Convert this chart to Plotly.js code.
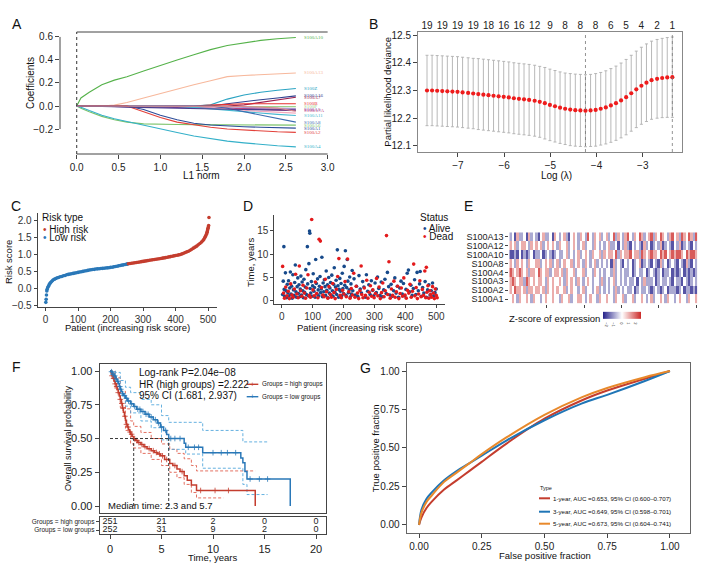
<!DOCTYPE html>
<html>
<head>
<meta charset="utf-8">
<script src="https://cdn.plot.ly/plotly-3.0.1.min.js"></script>
<style>html,body{margin:0;padding:0;background:#fff;}#chart{width:703px;height:570px;}</style>
</head>
<body>
<div id="chart"></div>
<script>
// ---------- Panel A: LASSO coefficient paths ----------
const l1Norm = [0, 0.05, 0.15, 0.3, 0.45, 0.6, 0.8, 1.0, 1.2, 1.4, 1.6, 1.8, 2.0, 2.2, 2.4, 2.62];
const pathGenes = ["S100A10","S100A13","S100Z","S100A16","S100A7","S100B","S100P","S100A5","S100A7A","S100A11","S100A14","S100A9","S100A8","S100A6","S100A1","S100A2","S100A4","S100A3","S100G"];
const pathColors = ["#55b24a","#f7b89c","#2aa3c2","#2f3f8f","#9b1f4f","#e8312f","#9fd38a","#7d3e9a","#c2457f","#46b7d1","#f3a9bd","#a995d0","#3d6db0","#7cc36b","#2b4b98","#e3413a","#34b0c9","#4b3d8c","#d98c8c"];
const pathCoefs = [
  [0, 0.07, 0.12, 0.185, 0.225, 0.255, 0.305, 0.355, 0.40, 0.445, 0.49, 0.525, 0.55, 0.57, 0.585, 0.595],
  [0, 0, 0, 0, 0.008, 0.03, 0.07, 0.11, 0.15, 0.185, 0.22, 0.255, 0.265, 0.272, 0.28, 0.287],
  [0, 0, 0, 0, 0, 0, 0, 0, 0, 0, 0.01, 0.06, 0.095, 0.12, 0.137, 0.152],
  [0, 0, 0, 0, 0, 0, 0, 0, 0, 0, 0, 0.02, 0.04, 0.055, 0.07, 0.088],
  [0, 0, 0, 0, 0, 0, 0, 0, 0, 0, 0, 0, 0.01, 0.03, 0.05, 0.076],
  [0, 0, 0, 0, 0, 0, 0, 0, 0, 0, 0.008, 0.015, 0.02, 0.02, 0.02, 0.02],
  [0, 0, 0, 0, 0, 0, 0, 0, 0, 0, 0, -0.002, -0.003, -0.004, -0.005, -0.005],
  [0, 0, 0, 0, -0.002, -0.005, -0.008, -0.011, -0.014, -0.017, -0.02, -0.022, -0.024, -0.026, -0.027, -0.028],
  [0, 0, 0, 0, 0, 0, 0, 0, 0, -0.004, -0.01, -0.018, -0.025, -0.031, -0.036, -0.04],
  [0, 0, 0, 0, 0, 0, 0, 0, -0.004, -0.012, -0.025, -0.04, -0.052, -0.063, -0.073, -0.083],
  [0, 0, 0, 0, 0, 0, 0, 0, 0, 0, -0.01, -0.025, -0.037, -0.047, -0.055, -0.062],
  [0, 0, 0, 0, 0, 0, 0, 0, 0, 0, 0, -0.006, -0.012, -0.017, -0.02, -0.022],
  [0, 0, 0, 0, 0, 0, 0, 0, 0, 0, 0, -0.02, -0.05, -0.08, -0.11, -0.14],
  [0, -0.02, -0.05, -0.09, -0.12, -0.14, -0.155, -0.16, -0.161, -0.162, -0.163, -0.164, -0.165, -0.165, -0.166, -0.166],
  [0, 0, 0, 0, 0, 0, -0.03, -0.08, -0.12, -0.15, -0.165, -0.175, -0.18, -0.185, -0.19, -0.192],
  [0, 0, 0, 0, 0, 0, -0.05, -0.1, -0.14, -0.165, -0.185, -0.2, -0.21, -0.218, -0.224, -0.229],
  [0, -0.01, -0.04, -0.08, -0.11, -0.135, -0.17, -0.2, -0.23, -0.26, -0.285, -0.305, -0.32, -0.335, -0.345, -0.355],
  [0, 0, 0, 0, -0.005, -0.01, -0.014, -0.018, -0.021, -0.024, -0.026, -0.028, -0.03, -0.032, -0.034, -0.036],
  [0, 0, 0, 0, 0, 0, 0, 0, 0, 0, 0, 0, -0.004, -0.01, -0.018, -0.045]
];
const l1Ticks = [0, 0.5, 1, 1.5, 2, 2.5, 3];
const l1TopCounts = ["0","5","8","9","16","19","19"];
// which path end labels are legible in the figure (others are hidden under the cluster)
const labeledGenes = ["S100A10","S100A13","S100Z","S100A16","S100A7","S100B","S100P","S100A5","S100A7A","S100A11","S100A8","S100A6","S100A1","S100A2","S100A4"];

// ---------- Panel B: cross-validation curve ----------
const logLambda = [-7.67,-7.56,-7.45,-7.34,-7.23,-7.12,-7.01,-6.90,-6.78,-6.67,-6.56,-6.45,-6.34,-6.23,-6.12,-6.01,-5.90,-5.79,-5.68,-5.57,-5.46,-5.34,-5.23,-5.12,-5.01,-4.90,-4.79,-4.68,-4.57,-4.46,-4.35,-4.24,-4.13,-4.02,-3.91,-3.80,-3.69,-3.58,-3.47,-3.36,-3.25,-3.14,-3.03,-2.92,-2.81,-2.69,-2.58,-2.47,-2.36];
const cvMean = [12.300,12.300,12.299,12.298,12.297,12.296,12.295,12.293,12.291,12.289,
  12.287,12.285,12.283,12.281,12.279,12.277,12.275,12.272,12.270,12.268,
  12.266,12.263,12.259,12.254,12.248,12.243,12.238,12.234,12.231,12.229,
  12.228,12.227,12.228,12.230,12.234,12.239,12.246,12.254,12.264,12.276,
  12.290,12.304,12.317,12.328,12.337,12.342,12.345,12.347,12.348];
const cvSE = [0.127,0.127,0.127,0.127,0.127,0.127,0.127,0.127,0.127,0.127,
  0.128,0.128,0.128,0.128,0.128,0.128,0.128,0.128,0.128,0.128,
  0.128,0.128,0.128,0.129,0.129,0.129,0.129,0.129,0.130,0.130,
  0.130,0.130,0.130,0.131,0.131,0.132,0.133,0.134,0.135,0.136,
  0.137,0.138,0.139,0.140,0.141,0.142,0.143,0.144,0.145];
const nonzeroIdx = [0,3,6,9,12,15,18,21,24,27,30,33,36,39,42,45,48];
const nonzeroCounts = ["19","19","19","19","18","16","16","12","9","8","8","8","6","5","4","2","1"];
const lambdaMinIdx = 31;
const lambda1seIdx = 48;

// ---------- Panel C: risk score ----------
const lowPatient = [1,2,3,4,5,7,9,11,13,15,18,21,24,28,32,36,40,45,50,55,60,65,70,75,80,85,90,95,100,105,110,115,120,125,130,135,140,145,150,155,160,165,170,175,180,185,190,195,200,205,210,215,220,225,230,235,240,245,250,252];
const lowScore = [-0.42,-0.33,-0.2,-0.08,-0.03,0.02,0.06,0.1,0.13,0.16,0.19,0.22,0.25,0.27,0.29,0.31,0.32,0.34,0.35,0.37,0.38,0.40,0.41,0.42,0.43,0.44,0.45,0.46,0.47,0.48,0.49,0.50,0.51,0.52,0.53,0.54,0.55,0.555,0.56,0.57,0.575,0.58,0.585,0.59,0.595,0.60,0.605,0.61,0.62,0.625,0.635,0.645,0.655,0.665,0.675,0.685,0.695,0.705,0.715,0.72];
const highPatient = [255,260,265,270,275,280,285,290,295,300,305,310,315,320,325,330,335,340,345,350,355,360,365,370,375,380,385,390,395,400,405,410,415,420,425,430,435,440,445,450,455,460,465,470,475,480,484,487,490,492,494,496,497,498,499,500,501,502,503];
const highScore = [0.725,0.733,0.741,0.749,0.757,0.765,0.773,0.781,0.789,0.797,0.805,0.813,0.821,0.829,0.837,0.845,0.853,0.861,0.869,0.877,0.885,0.893,0.901,0.91,0.92,0.93,0.94,0.95,0.96,0.97,0.98,0.99,1.0,1.02,1.04,1.06,1.08,1.1,1.13,1.16,1.19,1.22,1.25,1.29,1.33,1.37,1.41,1.45,1.5,1.54,1.58,1.62,1.66,1.7,1.74,1.78,1.82,1.86,2.1];

// ---------- Panel D: survival status ----------
const alivePatient = [3,5,7,8,10,12,14,16,18,20,22,24,26,28,30,32,34,36,38,40,42,44,46,48,50,52,54,56,58,60,62,64,66,68,70,72,74,76,78,80,83,84,86,88,90,91,92,94,96,98,100,102,104,106,108,110,112,114,116,118,120,122,124,126,128,130,132,134,136,138,140,142,144,146,148,150,152,154,156,158,160,162,164,166,168,170,172,174,176,178,180,182,184,186,188,190,192,194,196,198,200,202,204,206,208,210,212,214,216,218,220,222,224,226,228,230,234,238,242,246,250,254,258,262,266,270,274,278,282,286,290,294,298,302,306,310,314,318,322,326,330,334,338,342,346,350,354,358,362,366,370,374,378,382,386,390,394,398,402,406,410,414,418,422,426,430,434,438,442,446,448,452,456,460,464,468,472,476,480,484,488,492,496,500];
const aliveTime = [1.2,4.1,11.6,2.3,0.8,5.9,2.0,0.5,3.4,1.6,4.2,0.9,2.6,6.1,1.3,3.0,0.4,5.5,2.2,1.0,3.8,7.6,1.8,0.6,2.9,4.8,1.4,3.3,0.7,2.4,5.2,1.1,3.9,2.0,0.5,4.5,1.7,2.8,6.6,1.2,11.6,3.5,0.9,7.9,15.0,14.5,2.5,1.5,4.0,0.8,3.1,5.7,1.9,2.7,0.6,8.8,3.6,1.3,4.6,2.2,0.9,3.0,5.1,1.6,2.4,9.3,0.7,3.7,1.8,4.4,2.9,1.0,6.3,2.1,3.3,0.5,4.9,1.5,2.6,3.8,1.1,5.4,2.0,0.8,3.4,7.0,1.7,2.8,4.3,1.2,10.9,3.1,0.6,2.3,4.7,1.9,3.6,0.9,5.8,2.5,1.4,7.3,3.2,10.7,1.0,2.7,8.8,4.1,1.6,2.2,5.0,0.7,3.5,1.3,6.4,2.0,4.6,1.1,3.0,0.8,5.3,2.4,1.5,4.0,2.8,0.6,5.5,1.9,3.3,1.2,4.2,2.1,0.9,3.7,1.6,5.0,2.5,1.0,3.9,0.7,2.2,4.5,1.4,6.0,2.9,1.1,3.4,0.8,2.0,4.8,1.5,3.0,0.6,2.6,4.1,1.3,3.6,0.9,2.3,5.8,6.5,1.8,3.2,1.0,2.5,4.4,1.2,6.0,2.0,3.5,6.2,0.8,2.7,1.5,4.0,0.6,2.2,3.3,1.1,2.0,3.7,0.9,1.6,2.4];
const deadPatient = [3,6,9,13,17,21,25,29,33,37,41,45,49,53,57,61,65,69,73,77,81,85,89,93,97,101,105,109,113,117,121,125,129,133,137,141,145,149,153,157,161,165,169,173,177,181,185,189,193,197,201,205,209,213,217,221,225,229,233,237,241,245,249,253,257,259,263,267,271,275,279,283,287,291,295,299,303,307,311,315,319,323,327,331,335,339,343,347,351,355,359,363,367,371,375,379,383,387,391,395,399,403,407,411,415,419,423,427,431,435,439,443,447,451,455,459,463,466,468,470,473,476,479,482,485,488,491,494,497,500,503];
const deadTime = [7.3,1.5,0.4,2.8,0.9,1.9,0.3,3.5,1.1,0.6,2.4,5.6,1.3,0.5,7.4,2.0,0.8,3.2,1.5,0.4,2.6,5.5,1.0,0.6,17.5,2.2,0.9,3.9,1.4,0.5,13.2,12.8,2.7,1.1,0.7,4.5,1.8,0.4,2.9,1.2,0.6,3.6,1.6,0.3,2.3,5.1,9.0,1.0,0.5,2.1,1.3,4.0,0.7,8.9,1.8,0.4,2.5,1.1,5.8,0.6,3.0,1.5,0.3,2.0,7.4,1.2,0.5,2.6,1.0,4.3,0.4,1.7,3.1,0.8,2.2,0.5,1.4,4.7,0.9,2.8,0.3,1.6,3.7,0.7,2.0,14.0,1.2,8.3,0.4,2.4,1.0,4.1,0.6,1.8,3.0,0.3,1.4,2.6,0.8,4.8,1.1,0.4,2.1,1.5,3.4,0.6,1.9,7.8,0.9,2.7,0.3,1.3,4.2,0.7,2.3,1.0,6.3,0.5,7.1,1.7,3.1,0.4,2.0,1.2,0.6,2.9,1.5,0.3,2.4,1.0,0.5];

// ---------- Panel E: expression heatmap (z-scores, patients sorted by risk) ----------
const heatGenes = ["S100A13","S100A12","S100A10","S100A8","S100A4","S100A3","S100A2","S100A1"];
const heatZ = [
  [-1,0,-2,1,-1,-1,0,-2,1,-1, 0,-1,-2,0,1,-1,-1,0,-2,1, 0,-1,0,1,-1,-2,0,1,0,-1, 1,0,-1,2,0,-1,1,0,1,-1, 0,1,-1,0,2,-1,1,0,-1,1, 2,0,-1,1,0,2,1,-1,0,1, 2,-1,1,0,2,1,0,-1,1,2, 0,1,-1,2,1,0,2,1,-1,2],
  [1,0,1,-1,0,1,1,0,-1,1, 0,1,0,1,-1,0,1,0,1,0, -1,1,0,0,1,-1,0,1,0,-1, 0,1,-1,0,0,-1,1,0,-1,0, -1,0,1,-1,-1,0,-2,0,-1,1, -1,-2,0,-1,0,-1,-2,1,-1,0, -2,-1,0,-1,1,-2,-1,0,-1,-2, 0,-1,1,-2,-1,0,-1,-2,0,-1],
  [-2,-2,-1,-2,0,-2,-1,-2,-1,0, -2,-1,-1,0,-2,-1,0,-1,-2,-1, 0,-1,-1,0,1,-1,0,-1,0,1, -1,0,1,0,-1,1,0,0,1,-1, 1,0,1,1,0,2,-1,1,0,1, 1,2,0,1,1,-1,2,1,0,1, 2,1,1,0,2,1,2,0,1,2, 1,2,2,1,0,2,1,2,2,1],
  [1,0,-1,1,0,1,0,-1,1,0, 0,1,1,-1,0,1,0,1,-1,0, 1,-1,0,1,0,0,1,-1,0,1, 0,-1,1,0,-1,0,1,-1,0,-1, 0,-1,0,-2,1,-1,0,-1,-2,0, -1,0,-2,-1,0,1,-2,-1,0,-1, -2,0,-1,-2,1,-1,0,-2,-1,0, -1,-2,0,-1,-2,1,-1,-2,0,-1],
  [2,1,0,1,2,1,0,1,-1,1, 1,0,2,1,0,1,1,-1,0,1, 1,0,1,-1,1,0,0,1,-1,0, 0,1,-1,0,0,-1,1,0,-1,0, -1,0,0,-1,1,-1,0,-1,0,-1, -1,0,-2,-1,0,-1,-1,0,-2,-1, 0,-1,-2,-1,0,-2,-1,-1,0,-2, -1,-2,-1,0,-2,-1,-2,-1,-2,-1],
  [1,2,1,0,1,1,-1,2,1,0, 1,0,1,1,0,-1,1,0,1,0, 0,1,0,-1,1,0,1,0,-1,1, 0,-1,0,1,0,-1,0,0,-1,1, -1,0,-1,0,1,-1,0,-1,0,-1, 0,-1,-1,0,-2,0,-1,1,-1,-1, -1,0,-2,-1,0,-1,-1,0,-1,-2, 0,-1,-1,-2,0,-1,-2,-1,0,-1],
  [1,0,2,1,1,0,1,-1,1,1, 0,1,1,0,1,-1,1,0,1,0, 1,0,0,1,-1,0,1,0,0,-1, 0,1,-1,0,0,-1,0,1,-1,0, -1,0,-1,0,-1,1,-1,0,-1,0, -1,-1,0,-2,-1,0,-1,-1,0,-1, -2,-1,0,-1,-2,-1,0,-2,-1,-1, -1,-2,-1,0,-2,-1,-1,-2,-1,-2],
  [0,1,0,-1,1,0,0,1,0,-1, 1,0,0,-1,0,1,0,0,1,0, 0,-1,1,0,0,1,-1,0,0,1, 1,0,-1,0,1,0,0,-1,1,0, 0,1,0,0,-1,1,0,0,1,-1, 0,0,1,-1,0,0,1,0,-1,0, 1,-1,0,0,1,0,-1,1,0,0, -1,0,1,0,0,-1,1,0,0,1]
];
const heatPatients = 503;

// ---------- Panel F: Kaplan-Meier ----------
const highT = [0,0.1,0.2,0.3,0.4,0.5,0.6,0.7,0.8,0.9,1.0,1.1,1.2,1.3,1.4,1.5,1.6,1.7,1.8,1.9,2.0,2.15,2.3,2.5,2.7,3.0,3.3,3.6,4.0,4.3,4.6,4.9,5.3,5.8,6.1,6.5,6.8,7.2,7.5,7.9,8.4,14.1];
const highS = [1,0.985,0.965,0.945,0.925,0.905,0.885,0.865,0.84,0.815,0.79,0.76,0.725,0.695,0.665,0.635,0.605,0.585,0.565,0.548,0.532,0.515,0.498,0.485,0.47,0.455,0.44,0.425,0.41,0.397,0.386,0.372,0.345,0.315,0.3,0.275,0.255,0.225,0.19,0.155,0.115,0];
const highUpT = [0,0.5,1.0,1.5,2.0,2.3,3.0,4.0,5.0,5.8,6.5,7.2,7.9,8.4,14.1];
const highUp = [1,0.95,0.85,0.72,0.63,0.59,0.545,0.5,0.46,0.42,0.39,0.35,0.3,0.26,0.26];
const highLoT = [0,0.5,1.0,1.5,2.0,2.3,3.0,4.0,5.0,5.8,6.5,7.2,7.9,8.4,11.0];
const highLo = [1,0.86,0.73,0.56,0.46,0.43,0.39,0.345,0.3,0.25,0.21,0.16,0.1,0.06,0.06];
const lowT = [0,0.1,0.2,0.3,0.4,0.5,0.6,0.7,0.8,0.9,1.0,1.1,1.2,1.3,1.5,1.7,2.0,2.3,2.6,3.0,3.4,3.8,4.2,4.6,4.9,5.2,5.5,5.7,7.2,7.35,9.0,12.7,12.9,13.1,13.3,17.5];
const lowS = [1,0.995,0.985,0.975,0.965,0.955,0.94,0.925,0.905,0.885,0.865,0.848,0.832,0.818,0.798,0.778,0.757,0.737,0.717,0.7,0.68,0.66,0.64,0.615,0.585,0.56,0.53,0.5,0.465,0.435,0.395,0.355,0.32,0.255,0.2,0];
const lowUpT = [0,0.5,1.0,1.5,2.0,3.0,4.0,5.0,5.7,7.35,9.0,12.9,15.3];
const lowUp = [1,0.99,0.93,0.88,0.84,0.79,0.75,0.67,0.62,0.62,0.56,0.475,0.475];
const lowLoT = [0,0.5,1.0,1.5,2.0,3.0,4.0,5.0,5.7,7.35,9.0,12.9,13.3,15.3];
const lowLo = [1,0.92,0.82,0.74,0.69,0.63,0.58,0.49,0.42,0.385,0.28,0.16,0.085,0.085];
const highCensor = [0.2,0.35,0.5,0.65,0.8,1.0,1.15,1.25,1.45,1.6,1.75,1.95,2.1,2.4,2.6,2.8,3.1,3.4,3.8,4.2,4.5,4.8,5.1,5.5,6.3,7.0,8.8,10.2,11.5];
const lowCensor = [0.15,0.3,0.45,0.6,0.75,0.95,1.05,1.25,1.4,1.6,1.8,2.1,2.4,2.7,2.9,3.2,3.5,3.7,4.0,4.4,4.7,5.0,5.4,5.9,6.3,6.8,7.6,8.2,8.6,10.0,10.8,11.4,12.2,13.6,14.5,15.3];
const medianHigh = 2.3, medianLow = 5.7;
const tableTimes = [0,5,10,15,20];
const atRiskHigh = [251,21,2,0,0];
const atRiskLow = [252,31,9,2,0];

// ---------- Panel G: time-dependent ROC ----------
const fpr = [0,0.01,0.03,0.05,0.1,0.15,0.2,0.25,0.35,0.5,0.65,0.75,0.9,1.0];
const tpr1y = [0,0.05,0.11,0.15,0.23,0.29,0.35,0.41,0.53,0.69,0.81,0.873,0.95,1.0];
const tpr3y = [0,0.10,0.17,0.21,0.29,0.35,0.40,0.45,0.55,0.68,0.79,0.845,0.935,1.0];
const tpr5y = [0,0.08,0.15,0.19,0.28,0.34,0.40,0.46,0.57,0.715,0.83,0.89,0.96,1.0];
const rocLabels = ["1-year, AUC =0.653, 95% CI (0.600–0.707)","3-year, AUC =0.649, 95% CI (0.598–0.701)","5-year, AUC =0.673, 95% CI (0.604–0.741)"];

// =====================================================================
const W = 703, H = 570;
const FONT = "Liberation Sans, Arial, Helvetica, sans-serif";
const dx = (a, b) => [a / W, b / W];
const dy = (top, bot) => [1 - bot / H, 1 - top / H];
const ann = (text, x, y, size, o) => Object.assign({text: text, x: x / W, y: 1 - y / H, xref: "paper", yref: "paper", showarrow: false, font: {size: size, family: FONT, color: "#111"}, xanchor: "center", yanchor: "middle"}, o || {});
const RED = "#c43d2e", BLUE = "#2a78b8", ORANGE = "#e8892b";

const traces = [];
// A
pathGenes.forEach((g, i) => {
  traces.push({type: "scatter", mode: "lines", x: l1Norm, y: pathCoefs[i], xaxis: "x", yaxis: "y", line: {color: pathColors[i], width: 1.1}, hoverinfo: "skip"});
});
// B
traces.push({type: "scatter", mode: "markers", x: logLambda, y: cvMean, xaxis: "x3", yaxis: "y3",
  marker: {color: "#ee1c1c", size: 4.2}, error_y: {type: "data", array: cvSE, color: "#b0b0b0", thickness: 0.9, width: 1.5}, hoverinfo: "skip"});
traces.push({type: "scatter", mode: "markers", x: [logLambda[0]], y: [cvMean[0]], xaxis: "x4", yaxis: "y3", marker: {opacity: 0}, hoverinfo: "skip"});
// C
traces.push({type: "scatter", mode: "markers", x: lowPatient, y: lowScore, xaxis: "x5", yaxis: "y5", marker: {color: BLUE, size: 3.6}, hoverinfo: "skip"});
traces.push({type: "scatter", mode: "markers", x: highPatient, y: highScore, xaxis: "x5", yaxis: "y5", marker: {color: RED, size: 3.6}, hoverinfo: "skip"});
// D
traces.push({type: "scatter", mode: "markers", x: alivePatient, y: aliveTime, xaxis: "x6", yaxis: "y6", marker: {color: "#174a8b", size: 3.6}, hoverinfo: "skip"});
traces.push({type: "scatter", mode: "markers", x: deadPatient, y: deadTime, xaxis: "x6", yaxis: "y6", marker: {color: "#e31a1c", size: 3.6}, hoverinfo: "skip"});
// E
traces.push({type: "heatmap", z: heatZ, y: heatGenes, x0: heatPatients / heatZ[0].length / 2, dx: heatPatients / heatZ[0].length, xaxis: "x7", yaxis: "y7",
  zmin: -2.6, zmax: 2.6, colorscale: [[0, "#24218a"], [0.5, "#ffffff"], [1, "#cc2a28"]], hoverinfo: "skip",
  colorbar: {orientation: "h", x: 621.7 / W, y: 1 - 318 / H, xanchor: "center", yanchor: "middle", len: 38, lenmode: "pixels", thickness: 7, thicknessmode: "pixels",
    outlinewidth: 0, tickvals: [-2, -1, 0, 1, 2], tickfont: {size: 4, family: FONT}, ticks: "", ypad: 0, xpad: 0}});
// F
const stepAt = (T, S, t) => { let s = S[0]; for (let k = 0; k < T.length; k++) { if (T[k] <= t) s = S[k]; } return s; };
const ciDash = "3px,2px";
traces.push({type: "scatter", mode: "lines", x: highUpT, y: highUp, xaxis: "x8", yaxis: "y8", line: {color: "#e0604f", width: 0.9, dash: ciDash, shape: "hv"}, hoverinfo: "skip"});
traces.push({type: "scatter", mode: "lines", x: highLoT, y: highLo, xaxis: "x8", yaxis: "y8", line: {color: "#e0604f", width: 0.9, dash: ciDash, shape: "hv"}, hoverinfo: "skip"});
traces.push({type: "scatter", mode: "lines", x: lowUpT, y: lowUp, xaxis: "x8", yaxis: "y8", line: {color: "#55a8dc", width: 0.9, dash: ciDash, shape: "hv"}, hoverinfo: "skip"});
traces.push({type: "scatter", mode: "lines", x: lowLoT, y: lowLo, xaxis: "x8", yaxis: "y8", line: {color: "#55a8dc", width: 0.9, dash: ciDash, shape: "hv"}, hoverinfo: "skip"});
traces.push({type: "scatter", mode: "lines", x: highT, y: highS, xaxis: "x8", yaxis: "y8", line: {color: RED, width: 1.5, shape: "hv"}, hoverinfo: "skip"});
traces.push({type: "scatter", mode: "lines", x: lowT, y: lowS, xaxis: "x8", yaxis: "y8", line: {color: BLUE, width: 1.5, shape: "hv"}, hoverinfo: "skip"});
traces.push({type: "scatter", mode: "markers", x: highCensor, y: highCensor.map(t => stepAt(highT, highS, t)), xaxis: "x8", yaxis: "y8",
  marker: {symbol: "cross-thin-open", size: 4, color: RED, line: {color: RED, width: 0.8}}, hoverinfo: "skip"});
traces.push({type: "scatter", mode: "markers", x: lowCensor, y: lowCensor.map(t => stepAt(lowT, lowS, t)), xaxis: "x8", yaxis: "y8",
  marker: {symbol: "cross-thin-open", size: 4, color: BLUE, line: {color: BLUE, width: 0.8}}, hoverinfo: "skip"});
traces.push({type: "scatter", mode: "text", x: tableTimes, y: tableTimes.map(() => 2), text: atRiskHigh.map(String), xaxis: "x9", yaxis: "y9", textfont: {size: 9, family: FONT, color: "#222"}, hoverinfo: "skip"});
traces.push({type: "scatter", mode: "text", x: tableTimes, y: tableTimes.map(() => 1), text: atRiskLow.map(String), xaxis: "x9", yaxis: "y9", textfont: {size: 9, family: FONT, color: "#222"}, hoverinfo: "skip"});
// G
[[tpr1y, RED], [tpr3y, "#1f75b6"], [tpr5y, ORANGE]].forEach(([t, c]) => {
  traces.push({type: "scatter", mode: "lines", x: fpr, y: t, xaxis: "x10", yaxis: "y10", line: {color: c, width: 2, shape: "spline", smoothing: 1}, hoverinfo: "skip"});
});

const base = {showgrid: false, zeroline: false, ticks: "outside", ticklen: 4, tickwidth: 1, tickcolor: "#444", linecolor: "#444", linewidth: 1,
  tickfont: {size: 10, family: FONT, color: "#222"}, fixedrange: true};
const ax = o => Object.assign({}, base, o);

const layout = {
  width: W, height: H, margin: {l: 0, r: 0, t: 0, b: 0}, paper_bgcolor: "#fff", plot_bgcolor: "rgba(0,0,0,0)", showlegend: false,
  font: {family: FONT, color: "#222"},
  // A
  xaxis: ax({domain: dx(60, 336), range: [-0.2, 3.1], anchor: "y", tickvals: l1Ticks, tickformat: ".1f", showline: false}),
  yaxis: ax({domain: dy(32, 154), range: [-0.417, 0.643], anchor: "x", tickvals: [-0.2, 0, 0.2, 0.4, 0.6], tickformat: ".1f", showline: false}),
  xaxis2: ax({overlaying: "x", side: "top", anchor: "y", range: [-0.2, 3.1], tickvals: l1Ticks, ticktext: l1TopCounts, showline: false}),
  // B
  xaxis3: ax({domain: dx(418, 682), range: [-7.865, -2.151], anchor: "y3", tickvals: [-7, -6, -5, -4, -3], showline: true, mirror: true, linecolor: "#888"}),
  yaxis3: ax({domain: dy(32, 152), range: [12.078, 12.511], anchor: "x3", tickvals: [12.1, 12.2, 12.3, 12.4, 12.5], tickformat: ".1f", showline: true, mirror: true, linecolor: "#888"}),
  xaxis4: ax({overlaying: "x3", side: "top", anchor: "y3", range: [-7.865, -2.151], tickvals: nonzeroIdx.map(i => logLambda[i]), ticktext: nonzeroCounts, ticks: "", showline: false}),
  // C
  xaxis5: ax({domain: dx(37.7, 217.1), range: [-24, 528], anchor: "y5", tickvals: [0, 100, 200, 300, 400, 500], showline: true, ticklen: 3, tickfont: {size: 10, family: FONT, color: "#333"}}),
  yaxis5: ax({domain: dy(213.3, 306.6), range: [-0.546, 2.226], anchor: "x5", tickvals: [-0.5, 0, 0.5, 1, 1.5, 2], tickformat: ".1f", showline: true, ticklen: 3, tickfont: {size: 10, family: FONT, color: "#333"}}),
  // D
  xaxis6: ax({domain: dx(274.3, 444.9), range: [-24, 528], anchor: "y6", tickvals: [0, 100, 200, 300, 400, 500], showline: true, ticklen: 3, tickfont: {size: 10, family: FONT, color: "#333"}}),
  yaxis6: ax({domain: dy(215.4, 304), range: [-0.87, 18.39], anchor: "x6", tickvals: [0, 5, 10, 15], showline: true, ticklen: 3, tickfont: {size: 10, family: FONT, color: "#333"}}),
  // E
  xaxis7: ax({domain: dx(509.3, 697.3), range: [0, heatPatients], anchor: "y7", tickvals: [100, 200, 300, 400, 500], showticklabels: false, ticklen: 3, showline: false}),
  yaxis7: ax({domain: dy(232.3, 303.5), anchor: "x7", autorange: "reversed", type: "category", tickmode: "array", tickvals: heatGenes, ticktext: heatGenes, ticklen: 3, showline: false, tickfont: {size: 9, family: FONT, color: "#222"}}),
  // F
  xaxis8: ax({domain: dx(99.7, 326.3), range: [-1, 21], anchor: "y8", showticklabels: false, ticks: "", showline: true, mirror: true}),
  yaxis8: ax({domain: dy(364.3, 513.3), range: [-0.054, 1.05], anchor: "x8", tickvals: [0, 0.25, 0.5, 0.75, 1], tickformat: ".2f", showline: true, mirror: true, tickfont: {size: 11, family: FONT, color: "#222"}}),
  xaxis9: ax({domain: dx(99.7, 326.3), range: [-1, 21], anchor: "y9", tickvals: [0, 5, 10, 15, 20], showline: true, mirror: true, tickfont: {size: 11, family: FONT, color: "#222"}}),
  yaxis9: ax({domain: dy(517.3, 534.3), range: [0.5, 2.5], anchor: "x9", tickvals: [1, 2], ticktext: ["Groups = low groups", "Groups = high groups"], showline: true, mirror: true, ticklen: 3, tickfont: {size: 6.5, family: FONT, color: "#222"}}),
  // G
  xaxis10: ax({domain: dx(406.7, 690), range: [-0.049, 1.08], anchor: "y10", tickvals: [0, 0.25, 0.5, 0.75, 1], tickformat: ".2f", showline: true, mirror: true, linecolor: "#666"}),
  yaxis10: ax({domain: dy(363.3, 533.3), range: [-0.054, 1.05], anchor: "x10", tickvals: [0, 0.25, 0.5, 0.75, 1], tickformat: ".2f", showline: true, mirror: true, linecolor: "#666"}),
  shapes: [
    {type: "line", xref: "x", yref: "y domain", x0: 0, x1: 3, y0: 0, y1: 0, line: {color: "#444", width: 1}},
    {type: "line", xref: "x", yref: "y domain", x0: 0, x1: 3, y0: 1, y1: 1, line: {color: "#444", width: 1}},
    {type: "line", xref: "x domain", yref: "y", x0: 0, x1: 0, y0: -0.2, y1: 0.6, line: {color: "#444", width: 1}},
    {type: "line", xref: "x", yref: "y domain", x0: 0, x1: 0, y0: 0, y1: 1, line: {color: "#333", width: 1, dash: "dot"}},
    {type: "line", xref: "x3", yref: "y3 domain", x0: logLambda[lambdaMinIdx], x1: logLambda[lambdaMinIdx], y0: 0, y1: 1, line: {color: "#777", width: 0.8, dash: "dot"}},
    {type: "line", xref: "x3", yref: "y3 domain", x0: logLambda[lambda1seIdx], x1: logLambda[lambda1seIdx], y0: 0, y1: 1, line: {color: "#777", width: 0.8, dash: "dot"}},
    {type: "line", xref: "x8", yref: "y8", x0: 0, x1: medianLow, y0: 0.5, y1: 0.5, line: {color: "#222", width: 0.9, dash: ciDash}},
    {type: "line", xref: "x8", yref: "y8", x0: medianHigh, x1: medianHigh, y0: 0, y1: 0.5, line: {color: "#222", width: 0.9, dash: ciDash}},
    {type: "line", xref: "x8", yref: "y8", x0: medianLow, x1: medianLow, y0: 0, y1: 0.5, line: {color: "#222", width: 0.9, dash: ciDash}},
    {type: "line", xref: "paper", yref: "paper", x0: 246.7 / W, x1: 258.3 / W, y0: 1 - 384.3 / H, y1: 1 - 384.3 / H, line: {color: RED, width: 1.4}},
    {type: "line", xref: "paper", yref: "paper", x0: 246.7 / W, x1: 258.3 / W, y0: 1 - 396.7 / H, y1: 1 - 396.7 / H, line: {color: BLUE, width: 1.4}},
    {type: "line", xref: "paper", yref: "paper", x0: 539 / W, x1: 550 / W, y0: 1 - 498.3 / H, y1: 1 - 498.3 / H, line: {color: RED, width: 2}},
    {type: "line", xref: "paper", yref: "paper", x0: 539 / W, x1: 550 / W, y0: 1 - 511.7 / H, y1: 1 - 511.7 / H, line: {color: "#1f75b6", width: 2}},
    {type: "line", xref: "paper", yref: "paper", x0: 539 / W, x1: 550 / W, y0: 1 - 523.7 / H, y1: 1 - 523.7 / H, line: {color: ORANGE, width: 2}}
  ],
  annotations: []
};

const A = layout.annotations;
[["A", 16.7, 24], ["B", 373, 24], ["C", 16, 206], ["D", 247.5, 206], ["E", 468, 206], ["F", 16.7, 367], ["G", 365.5, 368]].forEach(([t, x, y]) => A.push(ann(t, x, y, 14)));
// A
A.push(ann("Coefficients", 30, 83, 10, {textangle: -90}));
A.push(ann("L1 norm", 201.7, 175.7, 10));
pathGenes.forEach((g, i) => {
  if (labeledGenes.indexOf(g) < 0) return;
  A.push({text: g, x: 2.69, y: pathCoefs[i][pathCoefs[i].length - 1], xref: "x", yref: "y", showarrow: false, xanchor: "left", yanchor: "middle",
    font: {size: 5, family: "Liberation Serif, Times New Roman, serif", color: pathColors[i]}});
});
// B
A.push(ann("Partial likelihood deviance", 386.7, 92, 9.5, {textangle: -90}));
A.push(ann("Log (λ)", 556.7, 175.7, 10));
// C
A.push(ann("Risk score", 8, 262, 9.5, {textangle: -90}));
A.push(ann("Patient (increasing risk score)", 127, 327.7, 9.5));
A.push(ann("Risk type", 40, 217.7, 10, {xanchor: "left"}));
A.push(ann("<span style='color:" + RED + "'>•</span> High risk", 41, 229, 10, {xanchor: "left"}));
A.push(ann("<span style='color:" + BLUE + "'>•</span> Low risk", 41, 238, 10, {xanchor: "left"}));
// D
A.push(ann("Time, years", 250, 262, 9.5, {textangle: -90}));
A.push(ann("Patient (increasing risk score)", 359, 327.7, 9.5));
A.push(ann("Status", 418.3, 217.7, 10, {xanchor: "left"}));
A.push(ann("<span style='color:#174a8b'>•</span> Alive", 421, 228, 10, {xanchor: "left"}));
A.push(ann("<span style='color:#e31a1c'>•</span> Dead", 421, 236.7, 10, {xanchor: "left"}));
// E
A.push(ann("Z-score of expression", 506.7, 318, 9.5, {xanchor: "left"}));
// F
A.push(ann("Log-rank P=2.04e−08", 137.3, 372.3, 10, {xanchor: "left"}));
A.push(ann("HR (high groups) =2.222", 137.3, 384, 10, {xanchor: "left"}));
A.push(ann("95% CI (1.681, 2.937)", 137.3, 395.5, 10, {xanchor: "left"}));
A.push(ann("Median time: " + medianHigh + " and " + medianLow, 105.7, 505, 9.5, {xanchor: "left"}));
A.push(ann("Overall survival probability", 68, 438, 9, {textangle: -90}));
A.push(ann("Time, years", 212.8, 557.3, 9.5));
A.push(ann("+", 252.5, 384.3, 8, {font: {size: 8, family: FONT, color: RED}}));
A.push(ann("+", 252.5, 396.7, 8, {font: {size: 8, family: FONT, color: BLUE}}));
A.push(ann("Groups = high groups", 259.5, 384.3, 6.3, {xanchor: "left"}));
A.push(ann("Groups = low groups", 259.5, 396.7, 6.3, {xanchor: "left"}));
// G
A.push(ann("True positive fraction", 375, 448.3, 9.5, {textangle: -90}));
A.push(ann("False positive fraction", 545, 555.7, 9.5));
A.push(ann("Type", 538, 487.7, 5.5, {xanchor: "left"}));
[498.3, 511.7, 523.7].forEach((y, i) => A.push(ann(rocLabels[i], 551, y, 6.2, {xanchor: "left"})));

Plotly.newPlot("chart", traces, layout, {displayModeBar: false, staticPlot: true});
</script>
</body>
</html>
